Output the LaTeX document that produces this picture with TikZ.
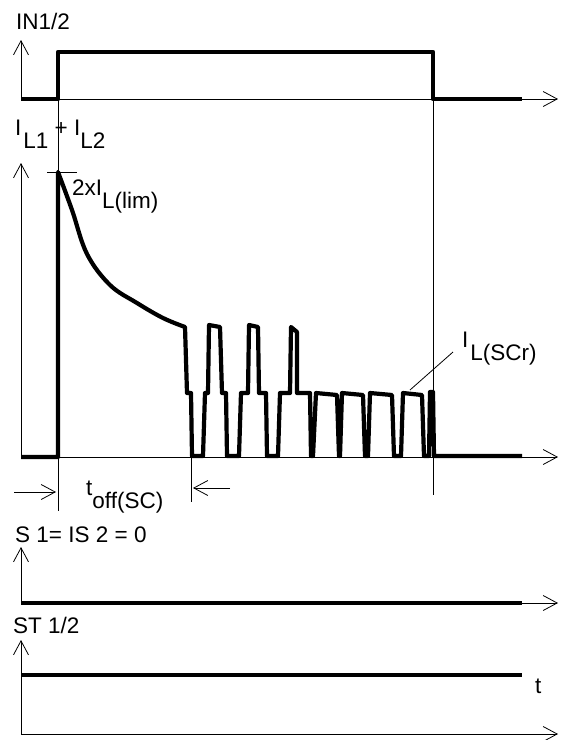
\documentclass[tikz,border=0pt]{standalone}
\usepackage{fontspec}
\setmainfont{Liberation Sans}
\usetikzlibrary{arrows.meta}
\newcommand\lsub[1]{\raisebox{-13pt}{#1}}
\begin{document}
\begin{tikzpicture}[x=1pt,y=-1pt,
  ax/.style={line width=0.8pt, -{Straight Barb[length=14pt,width=15pt,line width=0.8pt]}},
  thinl/.style={line width=0.8pt},
  sig/.style={line width=4.2pt, line join=round},
  lbl/.style={anchor=base west, inner sep=0pt, font=\fontsize{22.5}{26}\selectfont}]
\useasboundingbox (0,0) rectangle (565,740);
% ---------- panel 1 : IN1/2
\node[lbl] (lin) at (16,29) {IN1/2};
\draw[ax] (21,100) -- (21,40);
\draw[ax] (21,99) -- (558,99);
\draw[sig] (21,99) -- (58,99) -- (58,52) -- (433,52) -- (433,99) -- (522,99);
\draw[thinl] (58,99) -- (58,511);
\draw[thinl] (433,99) -- (433,495);
% ---------- panel 2 : load current
\node[lbl] (lil) at (15,135) {I\kern2pt\lsub{L1} + I\lsub{L2}};
\draw[ax] (21,458) -- (21,163);
\draw[ax] (21,457) -- (558,457);
\draw[thinl] (47,172) -- (77,172);
\node[lbl] (llim) at (72,195) {2xI\lsub{L(lim)}};
\draw[sig] (21,457) -- (58,457) -- (58,172)
  -- plot[smooth, tension=0.6] coordinates {(58,172) (72,210) (87,254) (110,285) (137,303) (163,318) (185,327)}
  -- (187,393) -- (191,393) -- (192,456) -- (203,456)
  -- (205,393) -- (208,393) -- (209,325) -- (220,327) -- (222,393) -- (226,393) -- (227,456) -- (239,456)
  -- (241,393) -- (248,393) -- (249,325) -- (258,327) -- (259,393) -- (266,393) -- (267,456) -- (278,456)
  -- (280,393) -- (290,393) -- (291,327) -- (297,332) -- (297,393) -- (310,393) -- (311,456) -- (313,456)
  -- (316,393) -- (337,395) -- (339,456) -- (340,456)
  -- (342,393) -- (363,395) -- (365,456) -- (368,456)
  -- (370,393) -- (392,395) -- (394,456) -- (401,456)
  -- (403,393) -- (422,395) -- (424,456) -- (429,456)
  -- (430,392) -- (433,392) -- (434,456) -- (522,456);
\node[lbl] (lscr) at (462,347) {I\kern2pt\lsub{L(SCr)}};
\draw[thinl] (453,352) -- (410,390);
% ---------- t_off(SC)
\draw[thinl] (191,457) -- (191,502);
\draw[ax] (14,492) -- (56,492);
\draw[ax] (230,488) -- (193,488);
\node[lbl] (ltoff) at (86,495) {t\lsub{off(SC)}};
% ---------- panel 3 : IS
\node[lbl] (lis) at (15,542) {S 1= IS 2 = 0};
\draw[ax] (21,603) -- (21,547);
\draw[ax] (21,603) -- (558,603);
\draw[sig] (21,603) -- (522,603);
% ---------- panel 4 : ST
\node[lbl] (lst) at (13,633) {ST 1/2};
\draw[ax] (21,734) -- (21,640);
\draw[ax] (21,734) -- (558,734);
\draw[sig] (21,675) -- (522,675);
\node[lbl] (lt) at (535,693) {t};
\end{tikzpicture}
\end{document}
